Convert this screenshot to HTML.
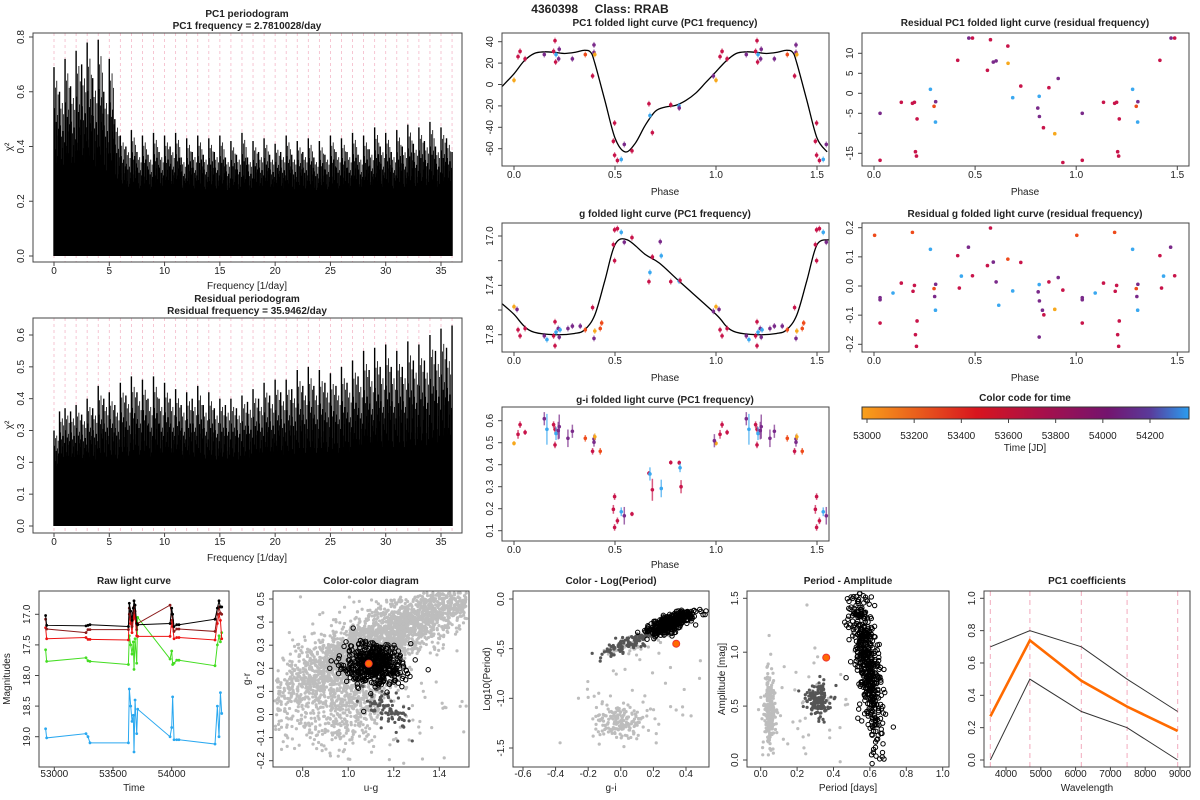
<!DOCTYPE html>
<html><head><meta charset="utf-8"><style>
body{margin:0;background:#fff}
svg{display:block;font-family:"Liberation Sans",sans-serif}
text{fill:#222}
.t{font-weight:bold;font-size:10px}
.l{font-size:10px}
</style></head><body>
<svg id="c" width="1200" height="800" viewBox="0 0 1200 800" xmlns="http://www.w3.org/2000/svg">
<rect width="1200" height="800" fill="#fff"/>
<text x="600" y="13" text-anchor="middle" font-weight="bold" font-size="12" style="white-space:pre">4360398     Class: RRAB</text>
</svg>
<script>
// ---------- data ----------
const peaks1=[0.69,0.6,0.72,0.62,0.75,0.7,0.78,0.65,0.79,0.6,0.72,0.5,0.44,0.4,0.46,0.38,0.44,0.37,0.45,0.38,0.44,0.4,0.45,0.36,0.43,0.38,0.44,0.37,0.43,0.38,0.44,0.36,0.42,0.37,0.45,0.36,0.42,0.38,0.43,0.37,0.41,0.38,0.44,0.37,0.42,0.38,0.43,0.36,0.42,0.37,0.44,0.38,0.43,0.38,0.45,0.37,0.44,0.39,0.47,0.4,0.45,0.38,0.46,0.4,0.48,0.41,0.47,0.42,0.49,0.4,0.47,0.43,0.38];
const peaks2=[0.3,0.36,0.37,0.36,0.38,0.35,0.4,0.37,0.44,0.4,0.42,0.38,0.45,0.41,0.47,0.42,0.46,0.4,0.47,0.4,0.45,0.4,0.43,0.38,0.42,0.4,0.44,0.38,0.42,0.37,0.4,0.38,0.4,0.37,0.41,0.39,0.43,0.4,0.45,0.41,0.46,0.42,0.46,0.43,0.49,0.44,0.5,0.44,0.49,0.45,0.48,0.44,0.5,0.45,0.52,0.47,0.55,0.49,0.56,0.5,0.57,0.5,0.55,0.5,0.58,0.52,0.57,0.52,0.6,0.55,0.62,0.56,0.63];
const peakStep=0.5;
const COL={Y:'#f7a81c',O:'#ee4a1a',C:'#c8144a',P:'#7a2a8a',B:'#3aa8f0'};
const pcPhase=[0,0.02,0.03,0.055,0.15,0.203,0.196,0.208,0.206,0.221,0.224,0.289,0.353,0.396,0.396,0.4,0.389,0.498,0.492,0.498,0.512,0.531,0.546,0.584,0.668,0.673,0.685,0.776,0.817,0.818,0.987];
const pcVal=[4,26,31,24,28,41,31,28,21,24,33,24,28,37,30,28,8,-36,-53,-66,-71,-70,-56,-62,-18,-29,-45,-19,-20,-22,8];
const pcCol="YCCCPCCBCPPPOPPYCCCCCBPCCBCCBPP";
const pcCurveX=[-0.06,0,0.05,0.1,0.15,0.2,0.25,0.3,0.35,0.38,0.4,0.45,0.5,0.55,0.6,0.65,0.7,0.75,0.8,0.85,0.9,0.95,1.0,1.05,1.1,1.15,1.2,1.25,1.3,1.35,1.38,1.4,1.45,1.5,1.55];
const pcCurveY=[-2,10,22,29,30.5,30,29,30,32,30,20,-15,-50,-63,-55,-38,-25,-21,-19.5,-15,-8,2,12,22,29,30.5,30,29,30,32,30,20,-15,-50,-63];
const gPhase=[0,0.015,0.02,0.03,0.055,0.15,0.163,0.203,0.196,0.203,0.208,0.219,0.224,0.228,0.267,0.289,0.328,0.353,0.389,0.396,0.4,0.427,0.434,0.492,0.498,0.498,0.512,0.531,0.546,0.584,0.668,0.673,0.685,0.729,0.724,0.776,0.817,0.822,0.987];
const gVal=[17.573,17.595,17.76,17.81,17.75,17.81,17.84,17.695,17.81,17.89,17.78,17.75,17.82,17.76,17.75,17.73,17.73,17.76,17.58,17.83,17.77,17.75,17.705,17.07,17.2,16.95,16.94,16.97,17.05,17.013,17.37,17.295,17.17,17.16,17.046,17.37,17.365,17.36,17.61];
const gCol="YPCCCPBCCCBPPBPPPOCPYOOCCCCBPCCBCBPCBCP";
const gCurveX=[-0.058,0,0.05,0.1,0.2,0.3,0.35,0.4,0.45,0.5,0.56,0.65,0.72,0.82,1.0,1.05,1.1,1.2,1.3,1.35,1.4,1.45,1.5,1.56];
const gCurveY=[17.55,17.635,17.73,17.78,17.8,17.79,17.76,17.64,17.36,17.07,17.03,17.15,17.22,17.37,17.635,17.73,17.78,17.8,17.79,17.76,17.64,17.36,17.07,17.03];
const giPhase=[0,0.02,0.03,0.055,0.15,0.163,0.196,0.203,0.203,0.208,0.219,0.224,0.267,0.289,0.353,0.389,0.396,0.396,0.4,0.427,0.498,0.492,0.498,0.512,0.531,0.546,0.584,0.668,0.673,0.685,0.729,0.776,0.818,0.822,0.827,0.992];
const giVal=[0.497,0.538,0.582,0.547,0.609,0.561,0.582,0.561,0.49,0.542,0.555,0.573,0.52,0.552,0.52,0.461,0.517,0.502,0.527,0.461,0.255,0.197,0.115,0.145,0.186,0.168,0.176,0.361,0.358,0.286,0.292,0.41,0.409,0.386,0.3,0.509];
const giErr=[0.01,0.02,0.015,0.012,0.03,0.07,0.015,0.015,0.015,0.03,0.04,0.055,0.04,0.03,0.015,0.015,0.02,0.02,0.015,0.015,0.015,0.02,0.015,0.015,0.02,0.04,0.01,0.01,0.03,0.05,0.04,0.01,0.01,0.02,0.03,0.03];
const giCol="YCCCPBCCCBPPPPOCPPYOCCCCBPCCBCBCCBCP";
const rPhase=[0.03,0.03,0.135,0.19,0.2,0.205,0.21,0.213,0.279,0.297,0.305,0.304,0.414,0.469,0.487,0.561,0.576,0.59,0.604,0.662,0.663,0.686,0.726,0.81,0.817,0.818,0.838,0.865,0.894,0.911,0.934];
const rVal=[-5,-16.75,-2.25,-2.5,-2.25,-14.6,-15.7,-6.4,1,-3.25,-2.1,-7.2,8.25,13.8,13.8,5.75,13.4,7.8,8.1,11.8,7.5,-1.1,1.8,-3.7,-0.75,-5.8,-8.6,1.4,-10.1,3.7,-17.3];
const rCol="PCCCCCCCBOPBCPCCCPPCYBCPBPCCYPC";
const rgPhase=[0.003,0.03,0.03,0.03,0.094,0.135,0.19,0.193,0.2,0.205,0.21,0.213,0.279,0.297,0.3,0.305,0.304,0.414,0.422,0.432,0.467,0.487,0.561,0.576,0.59,0.604,0.617,0.662,0.686,0.726,0.812,0.817,0.818,0.817,0.833,0.84,0.865,0.894,0.911,0.934];
const rgVal=[0.174,-0.04,-0.047,-0.127,-0.024,0.01,0.184,-0.018,0.002,-0.167,-0.207,-0.12,0.126,-0.009,-0.036,0.006,-0.083,0.104,-0.007,0.034,0.133,0.035,0.07,0.199,0.082,0.014,-0.066,0.092,-0.017,0.081,-0.02,0.005,-0.051,-0.175,-0.083,-0.099,0.014,-0.08,0.029,-0.014];
const rgCol="OPPCBCOCCCCCBOPPBCCBPCCCPPBOBCPBPPPCCYPC";
const rawT=[52926,52935,53270,53287,53304,53631,53639,53651,53662,53673,53679,53688,53702,53710,53986,54000,54008,54020,54043,54062,54369,54389,54403,54415,54426];
const rawBlack=[17.02,17.18,17.19,17.18,17.17,17.2,16.82,16.95,17.1,16.9,16.78,16.85,17.15,17.17,17.15,16.9,17.0,17.2,17.17,17.17,17.08,16.9,16.78,16.88,16.88];
const rawBrown=[17.08,17.24,17.3,17.25,17.25,17.25,16.9,17.05,17.2,16.98,16.88,16.95,17.25,17.15,16.85,17.0,17.1,17.28,17.24,17.24,17.28,17.0,16.88,16.98,17.0];
const rawRed=[17.22,17.4,17.38,17.41,17.41,17.42,17.0,17.15,17.3,17.08,17.0,17.05,17.35,17.36,17.36,17.1,17.2,17.4,17.38,17.38,17.42,17.15,17.0,17.1,17.4];
const rawGreen=[17.58,17.77,17.71,17.76,17.77,17.82,17.35,17.5,17.65,17.45,17.9,17.4,17.8,17.05,17.73,17.6,17.82,17.8,17.75,17.75,17.84,17.5,17.35,17.45,17.3];
const rawBlue=[18.87,19.02,18.95,19.0,19.1,19.1,18.22,18.5,18.75,18.65,19.25,18.4,18.95,18.55,19.0,18.85,18.35,19.05,19.05,19.05,19.12,18.5,19.0,18.28,18.62];
const waveX=[3551,4686,6166,7480,8932];
const coefPC1=[0.27,0.74,0.49,0.33,0.18];
const coefHi=[0.7,0.8,0.7,0.5,0.3];
const coefLo=[0,0.5,0.3,0.2,0];
const starCC=[1.09,0.22], starCLP=[0.34,-0.45], starPA=[0.36,0.95];

// ---------- helpers ----------
const NS='http://www.w3.org/2000/svg', svg=document.getElementById('c');
function mk(tag,at,name,par){const e=document.createElementNS(NS,tag);for(const k in at)e.setAttribute(k,at[k]);


(par||svg).appendChild(e);return e;}
function lin(v0,p0,v1,p1){return v=>p0+(v-v0)*(p1-p0)/(v1-v0);}
function txt(x,y,s,cls,name,rot){const e=mk('text',{x:x,y:y,'text-anchor':'middle',class:cls||'l'},name);if(rot)e.setAttribute('transform','rotate(-90 '+x+' '+y+')');e.textContent=s;return e;}
function box(b,name){mk('rect',{x:b[0],y:b[1],width:b[2]-b[0],height:b[3]-b[1],fill:'none',stroke:'#444','stroke-width':1},name);}
function xaxis(b,sx,ticks,labs,ly,name){const g=mk('g',{},name);ticks.forEach((t,i)=>{const x=sx(t);mk('line',{x1:x,x2:x,y1:b[3],y2:b[3]+4,stroke:'#444'},'x-tick',g);const e=mk('text',{x:x,y:ly,'text-anchor':'middle',class:'l'},'x-tick-label',g);e.textContent=labs?labs[i]:t;});}
function yaxis(b,sy,ticks,labs,name){const g=mk('g',{},name);ticks.forEach((t,i)=>{const y=sy(t);mk('line',{x1:b[0]-4,x2:b[0],y1:y,y2:y,stroke:'#444'},'y-tick',g);const lx=b[0]-9;const e=mk('text',{x:lx,y:y,'text-anchor':'middle',class:'l',transform:'rotate(-90 '+lx+' '+y+')'},'y-tick-label',g);e.textContent=labs?labs[i]:t;});}
function dot(x,y,r,fill,name,par,stroke){return mk('circle',{cx:x,cy:y,r:r,fill:fill,stroke:stroke||'none'},name,par);}
function smooth(pts){let d='M'+pts[0][0]+','+pts[0][1];for(let i=0;i<pts.length-1;i++){const p0=pts[i-1]||pts[i],p1=pts[i],p2=pts[i+1],p3=pts[i+2]||p2;d+=' C'+(p1[0]+(p2[0]-p0[0])/6)+','+(p1[1]+(p2[1]-p0[1])/6)+' '+(p2[0]-(p3[0]-p1[0])/6)+','+(p2[1]-(p3[1]-p1[1])/6)+' '+p2[0]+','+p2[1];}return d;}
let seed=12345;function rnd(){seed|=0;seed=seed+0x6D2B79F5|0;let t=Math.imul(seed^seed>>>15,1|seed);t=t+Math.imul(t^t>>>7,61|t)^t;return((t^t>>>14)>>>0)/4294967296;}
function gau(){return Math.sqrt(-2*Math.log(rnd()+1e-9))*Math.cos(2*Math.PI*rnd());}
function fmt(v,d){return v.toFixed(d);}

// ---------- periodograms ----------
const subFrac=[1,0.45,0.7,0.35,0.85,0.4,0.6,0.3,0.9,0.5,0.65,0.35,0.8,0.45,0.55,0.3];
function periodogram(b,sy,peaks,base,name,ticksY){
  const sx=lin(0,54,35,441);const g=mk('g',{},name);
  for(let f=0;f<=36;f++)mk('line',{x1:sx(f),x2:sx(f),y1:b[1],y2:b[3],stroke:'#f4b8c8','stroke-dasharray':'3,3','stroke-width':0.8},'alias-line',g);
  mk('rect',{x:sx(0),y:sy(base),width:sx(36)-sx(0),height:sy(0)-sy(base),fill:'#000'},'noise-floor',g);
  peaks.forEach((h,i)=>{const f=i*peakStep;subFrac.forEach((fr,j)=>{const ff=f+j*peakStep/subFrac.length;if(ff>36)return;const hh=base+(h-base)*fr;mk('line',{x1:sx(ff),x2:sx(ff),y1:sy(0),y2:sy(hh),stroke:'#000','stroke-width':j==0?1.4:0.8},'periodogram-spike',g);});});
  box(b,name+'-frame');
  xaxis(b,sx,[0,5,10,15,20,25,30,35],null,b[3]+12,name+'-x-axis');
  yaxis(b,sy,ticksY,ticksY.map(v=>fmt(v,1)),name+'-y-axis');
}
const b1=[33,33,462,262];periodogram(b1,lin(0,256,0.8,37),peaks1,0.19,'pc1-periodogram',[0,0.2,0.4,0.6,0.8]);
txt(247,17,'PC1 periodogram','t','pc1-periodogram-title');txt(247,29,'PC1 frequency = 2.7810028/day','t','pc1-frequency-subtitle');
txt(247,289,'Frequency [1/day]','l','pc1-periodogram-x-title');txt(12,147,'χ²','l','pc1-periodogram-y-title',true);
const b2=[33,318,462,533];periodogram(b2,lin(0,526,0.6,335),peaks2,0.14,'residual-periodogram',[0,0.1,0.2,0.3,0.4,0.5,0.6]);
txt(247,302,'Residual periodogram','t','residual-periodogram-title');txt(247,314,'Residual frequency = 35.9462/day','t','residual-frequency-subtitle');
txt(247,561,'Frequency [1/day]','l','residual-periodogram-x-title');txt(12,425,'χ²','l','residual-periodogram-y-title',true);

// ---------- folded curves ----------
function folded(b,sx,sy,ph,val,col,name,opt){
  const g=mk('g',{},name);
  if(opt.curveX){const pts=opt.curveX.map((x,i)=>[sx(x),sy(opt.curveY[i])]);mk('path',{d:smooth(pts),fill:'none',stroke:'#000','stroke-width':1.3},'fit-curve',g);}
  ph.forEach((p,i)=>{[p,p+1].forEach(pp=>{if(pp>1.56)return;const x=sx(pp),y=sy(val[i]),c=COL[col[i]];
    if(opt.err){mk('line',{x1:x,x2:x,y1:sy(val[i]-opt.err[i]),y2:sy(val[i]+opt.err[i]),stroke:c,'stroke-width':1.5,opacity:0.7},'error-bar',g);}
    else if(opt.ebar){mk('line',{x1:x,x2:x,y1:y-3,y2:y+3,stroke:c,'stroke-width':1.2,opacity:0.6},'error-bar',g);}
    dot(x,y,1.8,c,'data-point',g);});});
  box(b,name+'-frame');
  xaxis(b,sx,[0,0.5,1,1.5],['0.0','0.5','1.0','1.5'],b[3]+12,name+'-x-axis');
  yaxis(b,sy,opt.ty,opt.tl,name+'-y-axis');
}
const sxF=lin(0,514,1.5,817);
folded([502,33,829,166],sxF,lin(40,41.7,-60,148.7),pcPhase,pcVal,pcCol,'pc1-folded',{curveX:pcCurveX,curveY:pcCurveY,ebar:1,ty:[-60,-40,-20,0,20,40]});
txt(665,26,'PC1 folded light curve (PC1 frequency)','t','pc1-folded-title');txt(665,195,'Phase','l','pc1-folded-x-title');
folded([502,223,829,352],sxF,lin(17,236,17.8,334.7),gPhase,gVal,gCol,'g-folded',{curveX:gCurveX,curveY:gCurveY,ebar:1,ty:[17,17.2,17.4,17.6,17.8],tl:['17.0','','17.4','','17.8']});
txt(665,217,'g folded light curve (PC1 frequency)','t','g-folded-title');txt(665,381,'Phase','l','g-folded-x-title');
folded([502,407,829,541],sxF,lin(0.6,420.7,0.1,530.7),giPhase,giVal,giCol,'gi-folded',{err:giErr,ty:[0.1,0.2,0.3,0.4,0.5,0.6],tl:['0.1','0.2','0.3','0.4','0.5','0.6']});
txt(665,403,'g-i folded light curve (PC1 frequency)','t','gi-folded-title');txt(665,568,'Phase','l','gi-folded-x-title');
const sxR=lin(0,874,1.5,1177.3);
folded([862,33,1189,166],sxR,lin(10,53.3,-15,153.3),rPhase,rVal,rCol,'residual-pc1-folded',{ty:[-15,-10,-5,0,5,10],tl:['-15','','-5','0','5','10']});
txt(1025,26,'Residual PC1 folded light curve (residual frequency)','t','residual-pc1-title');txt(1025,195,'Phase','l','residual-pc1-x-title');
folded([862,223,1189,352],sxR,lin(0.2,227.7,-0.2,344.3),rgPhase,rgVal,rgCol,'residual-g-folded',{ty:[-0.2,-0.1,0,0.1,0.2],tl:['-0.2','-0.1','0.0','0.1','0.2']});
txt(1025,217,'Residual g folded light curve (residual frequency)','t','residual-g-title');txt(1025,381,'Phase','l','residual-g-x-title');

// ---------- colorbar ----------
const defs=mk('defs',{},'defs');const lg=mk('linearGradient',{id:'tg'},'time-gradient',defs);
[['0','#f9a11b'],['0.35','#d8151e'],['0.55','#a8104a'],['0.75','#74146e'],['0.88','#5a3a9a'],['1','#2a9df0']].forEach(s=>mk('stop',{offset:s[0],'stop-color':s[1]},'gradient-stop',lg));
mk('rect',{x:862,y:407,width:327,height:12,fill:'url(#tg)',stroke:'#333'},'time-colorbar');
txt(1025,401,'Color code for time','t','colorbar-title');
const sxT=lin(53000,867,54200,1150);
xaxis([862,407,1189,419],sxT,[53000,53200,53400,53600,53800,54000,54200],null,439,'colorbar-axis');
txt(1025,451,'Time [JD]','l','colorbar-x-title');

// ---------- raw light curve ----------
(function(){const b=[39,591,229,767],sx=lin(53000,54.3,54000,171.7),sy=lin(17,614.3,19,736.7);const g=mk('g',{},'raw-light-curve');
[[rawBlue,'#2aa8f0'],[rawGreen,'#44dd22'],[rawRed,'#ee1111'],[rawBrown,'#8b1a1a'],[rawBlack,'#000']].forEach(s=>{const pts=rawT.map((t,i)=>sx(t)+','+sy(s[0][i])).join(' ');mk('polyline',{points:pts,fill:'none',stroke:s[1],'stroke-width':1},'band-line',g);rawT.forEach((t,i)=>dot(sx(t),sy(s[0][i]),1.4,s[1],'band-point',g));});
box(b,'raw-frame');xaxis(b,sx,[53000,53500,54000],null,777,'raw-x-axis');yaxis(b,sy,[17,17.5,18,18.5,19],['17.0','17.5','18.0','18.5','19.0'],'raw-y-axis');
txt(134,584,'Raw light curve','t','raw-title');txt(134,791,'Time','l','raw-x-title');txt(10,679,'Magnitudes','l','raw-y-title',true);})();

// ---------- scatter clouds ----------
function cloud(g,sx,sy,n,cx,cy,sdx,sdy,slope,kind,b){for(let i=0;i<n;i++){const u=gau(),x=cx+u*sdx,y=cy+u*slope*sdx+gau()*sdy;const X=sx(x),Y=sy(y);if(X<b[0]+2||X>b[2]-2||Y<b[1]+2||Y>b[3]-2)continue;
 if(kind=='o')dot(X,Y,2.2,'none','member-circle',g,'#000');else dot(X,Y,1.6,kind,'field-star',g);}}
(function(){const b=[273,591,469,767],sx=lin(0.8,302.7,1.4,439.3),sy=lin(0.5,599,-0.2,760.7);const g=mk('g',{},'color-color-diagram');seed=7;
cloud(g,sx,sy,2600,1.2,0.36,0.25,0.065,0.5,'#bdbdbd',b);cloud(g,sx,sy,500,0.9,0.15,0.15,0.12,0.4,'#bdbdbd',b);cloud(g,sx,sy,350,1.02,0.03,0.1,0.08,0.3,'#bdbdbd',b);cloud(g,sx,sy,80,1.2,0.0,0.2,0.2,0,'#bdbdbd',b);
cloud(g,sx,sy,90,1.17,0.03,0.05,0.04,-0.6,'#555',b);cloud(g,sx,sy,450,1.12,0.22,0.065,0.045,0,'o',b);
dot(sx(starCC[0]),sy(starCC[1]),3.5,'#ff6a00','target-star',g,'#e33');
box(b,'cc-frame');xaxis(b,sx,[0.8,1,1.2,1.4],['0.8','1.0','1.2','1.4'],777,'cc-x-axis');yaxis(b,sy,[-0.2,-0.1,0,0.1,0.2,0.3,0.4,0.5],['-0.2','-0.1','0.0','0.1','0.2','0.3','0.4','0.5'],'cc-y-axis');
txt(371,584,'Color-color diagram','t','cc-title');txt(371,791,'u-g','l','cc-x-title');txt(250,679,'g-r','l','cc-y-title',true);})();
(function(){const b=[513,591,709,767],sx=lin(-0.6,523,0.4,686),sy=lin(0,599,-1.5,748);const g=mk('g',{},'color-logperiod-diagram');seed=99;
cloud(g,sx,sy,170,0.0,-1.25,0.09,0.09,0,'#bdbdbd',b);cloud(g,sx,sy,40,0.1,-0.9,0.2,0.25,0,'#bdbdbd',b);cloud(g,sx,sy,60,0.05,-0.45,0.1,0.05,0.5,'#bdbdbd',b);
cloud(g,sx,sy,110,0.05,-0.45,0.1,0.04,0.6,'#555',b);cloud(g,sx,sy,420,0.3,-0.24,0.07,0.04,0.6,'o',b);
dot(sx(starCLP[0]),sy(starCLP[1]),3.5,'#ff6a00','target-star',g,'#e33');
box(b,'clp-frame');xaxis(b,sx,[-0.6,-0.4,-0.2,0,0.2,0.4],['-0.6','-0.4','-0.2','0.0','0.2','0.4'],777,'clp-x-axis');yaxis(b,sy,[-1.5,-1,-0.5,0],['-1.5','-1.0','-0.5','0.0'],'clp-y-axis');
txt(611,584,'Color - Log(Period)','t','clp-title');txt(611,791,'g-i','l','clp-x-title');txt(490,679,'Log10(Period)','l','clp-y-title',true);})();
(function(){const b=[747,591,949,767],sx=lin(0,760.7,1,942.7),sy=lin(1.5,598.3,0,760);const g=mk('g',{},'period-amplitude-diagram');seed=31;
cloud(g,sx,sy,220,0.05,0.45,0.015,0.17,0,'#bdbdbd',b);cloud(g,sx,sy,50,0.25,0.6,0.15,0.3,0,'#bdbdbd',b);
cloud(g,sx,sy,160,0.32,0.55,0.035,0.08,0,'#555',b);cloud(g,sx,sy,520,0.58,0.95,0.045,0.28,-6,'o',b);
dot(sx(starPA[0]),sy(starPA[1]),3.5,'#ff6a00','target-star',g,'#e33');
box(b,'pa-frame');xaxis(b,sx,[0,0.2,0.4,0.6,0.8,1],['0.0','0.2','0.4','0.6','0.8','1.0'],777,'pa-x-axis');yaxis(b,sy,[0,0.5,1,1.5],['0.0','0.5','1.0','1.5'],'pa-y-axis');
txt(848,584,'Period - Amplitude','t','pa-title');txt(848,791,'Period [days]','l','pa-x-title');txt(725,679,'Amplitude [mag]','l','pa-y-title',true);})();

// ---------- PC1 coefficients ----------
(function(){const b=[984,591,1190,767],sx=lin(4000,1006,9000,1180),sy=lin(1,598.3,0,760);const g=mk('g',{},'pc1-coefficients');
waveX.forEach(w=>mk('line',{x1:sx(w),x2:sx(w),y1:b[1],y2:b[3],stroke:'#f4b8c8','stroke-dasharray':'5,4','stroke-width':1.2},'filter-line',g));
[[coefHi,'#333',1],[coefLo,'#333',1],[coefPC1,'#ff6a00',2.6]].forEach(s=>mk('polyline',{points:waveX.map((w,i)=>sx(w)+','+sy(s[0][i])).join(' '),fill:'none',stroke:s[1],'stroke-width':s[2]},'coef-line',g));
box(b,'coef-frame');xaxis(b,sx,[4000,5000,6000,7000,8000,9000],null,777,'coef-x-axis');yaxis(b,sy,[0,0.2,0.4,0.6,0.8,1],['0.0','0.2','0.4','0.6','0.8','1.0'],'coef-y-axis');
txt(1087,584,'PC1 coefficients','t','coef-title');txt(1087,791,'Wavelength','l','coef-x-title');})();
</script>
</body></html>
